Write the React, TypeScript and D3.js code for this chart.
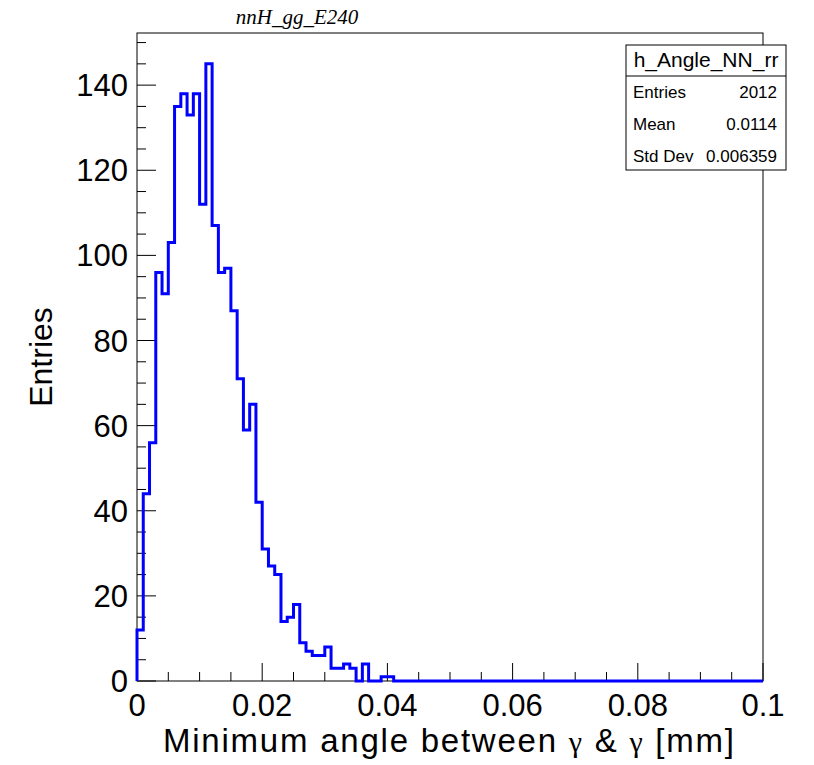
import React from "react";
import * as d3 from "d3";

const binLow = 0;
const binHigh = 0.1;
const counts = [
  12, 44, 56, 96, 91, 103, 135, 138, 133, 138, 112, 145, 107, 96, 97, 87, 71, 59, 65, 42,
  31, 27, 25, 14, 15, 18, 9, 7, 6, 6, 8, 3, 3, 4, 3, 0, 4, 0, 0, 1,
  1, 0, 0, 0, 0, 0, 0, 0, 0, 0, 0, 0, 0, 0, 0, 0, 0, 0, 0, 0,
  0, 0, 0, 0, 0, 0, 0, 0, 0, 0, 0, 0, 0, 0, 0, 0, 0, 0, 0, 0,
  0, 0, 0, 0, 0, 0, 0, 0, 0, 0, 0, 0, 0, 0, 0, 0, 0, 0, 0, 0,
];
const xTickLabels = ["0", "0.02", "0.04", "0.06", "0.08", "0.1"];
const xTickValues = [0, 0.02, 0.04, 0.06, 0.08, 0.1];
const yTickValues = [0, 20, 40, 60, 80, 100, 120, 140];
const statsTitle = "h_Angle_NN_rr";
const statsLabels = ["Entries", "Mean", "Std Dev"];
const statsValues = ["2012", "0.0114", "0.006359"];
const plotTitle = "nnH_gg_E240";
const xTitleParts = ["Minimum angle between ", "\u03b3", " & ", "\u03b3", " [mm]"];
const yTitle = "Entries";

export default function App() {
  const W = 814, H = 765;
  const L = 137, R = 763, T = 33, B = 681;
  const ymax = 1.05 * d3.max(counts)!;
  const x = d3.scaleLinear().domain([binLow, binHigh]).range([L, R]);
  const y = d3.scaleLinear().domain([0, ymax]).range([B, T]);
  const n = counts.length;
  const bw = (binHigh - binLow) / n;

  const pts: [number, number][] = [[x(binLow), y(0)]];
  counts.forEach((c, i) => {
    pts.push([x(binLow + i * bw), y(c)]);
    pts.push([x(binLow + (i + 1) * bw), y(c)]);
  });
  pts.push([x(binHigh), y(0)]);
  const path = d3.line()(pts) || "";

  const xMinor = d3.range(0, 21).map((i) => i * 0.005);
  const yMinor = d3.range(0, 31).map((i) => i * 5);
  const font = "'Liberation Sans', Arial, Helvetica, sans-serif";
  const serif = "'Liberation Serif', 'Times New Roman', serif";

  const bx0 = 626, bx1 = 786, by0 = 45, by1 = 170, bsep = 76;

  return (
    <svg width={W} height={H} style={{ position: "absolute", left: 0, top: 0, background: "#fff" }}>
      <rect x={0} y={0} width={W} height={H} fill="#fff" />
      <text x={297} y={24} textAnchor="middle" fontFamily={serif} fontStyle="italic" fontSize={21}>{plotTitle}</text>

      {xMinor.map((v, i) => {
        const major = i % 4 === 0;
        return <line key={"xt" + i} x1={x(v)} x2={x(v)} y1={B} y2={B - (major ? 18 : 9)} stroke="#000" strokeWidth={1} />;
      })}
      {yMinor.filter((v) => v <= ymax).map((v, i) => {
        const major = v % 20 === 0;
        return <line key={"yt" + i} x1={L} x2={L + (major ? 19 : 9)} y1={y(v)} y2={y(v)} stroke="#000" strokeWidth={1} />;
      })}

      <rect x={L} y={T} width={R - L} height={B - T} fill="none" stroke="#000" strokeWidth={1} />

      <path d={path} fill="none" stroke="#0000ff" strokeWidth={3} strokeLinejoin="miter" />

      {xTickValues.map((v, i) => (
        <text key={"xl" + i} x={x(v)} y={716} textAnchor="middle" fontFamily={font} fontSize={31}>{xTickLabels[i]}</text>
      ))}
      {yTickValues.map((v, i) => (
        <text key={"yl" + i} x={128} y={y(v) + 11} textAnchor="end" fontFamily={font} fontSize={31}>{String(v)}</text>
      ))}

      <text x={163} y={752} fontFamily={font} fontSize={33} textLength={571} lengthAdjust="spacing">
        {xTitleParts.map((p, i) => (
          <tspan key={"xp" + i} fontFamily={p === "\u03b3" ? serif : font} fontSize={p === "\u03b3" ? 30 : 33}>{p}</tspan>
        ))}
      </text>
      <text transform={`translate(52,${(T + B) / 2}) rotate(-90)`} textAnchor="middle" fontFamily={font} fontSize={32}>{yTitle}</text>

      <rect x={bx0} y={by0} width={bx1 - bx0} height={by1 - by0} fill="#fff" stroke="#000" strokeWidth={1} />
      <line x1={bx0} x2={bx1} y1={bsep} y2={bsep} stroke="#000" strokeWidth={1} />
      <text x={(bx0 + bx1) / 2} y={67} textAnchor="middle" fontFamily={font} fontSize={21}>{statsTitle}</text>
      {statsLabels.map((lab, i) => (
        <g key={"s" + i}>
          <text x={633} y={98 + i * 32} fontFamily={font} fontSize={17}>{lab}</text>
          <text x={777} y={98 + i * 32} textAnchor="end" fontFamily={font} fontSize={17}>{statsValues[i]}</text>
        </g>
      ))}
    </svg>
  );
}
